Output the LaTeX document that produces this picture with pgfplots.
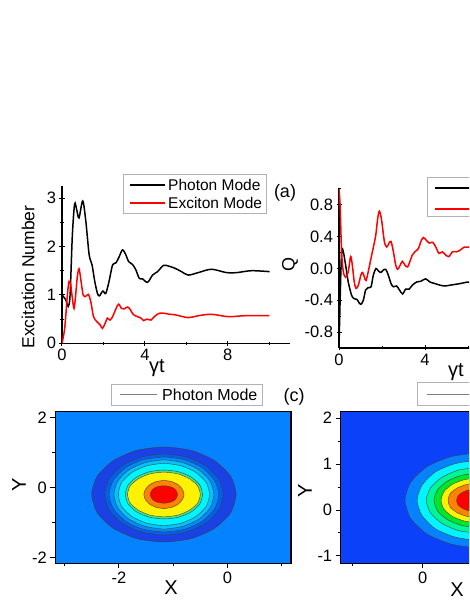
\documentclass[border=0pt]{standalone}
\usepackage{fontspec}
\setmainfont{Liberation Sans}
\usepackage{pgfplots}
\pgfplotsset{compat=1.18}

\definecolor{bgthree}{RGB}{5,130,255}
\definecolor{ringA}{RGB}{25,65,228}
\definecolor{ringB}{RGB}{0,95,240}
\definecolor{ringC}{RGB}{0,140,255}
\definecolor{ringD}{RGB}{0,195,255}
\definecolor{ringE}{RGB}{0,245,255}
\definecolor{ringF}{RGB}{60,230,140}
\definecolor{bgfour}{RGB}{12,65,250}
\definecolor{lgreen}{RGB}{0,245,150}
\definecolor{mgreen}{RGB}{0,230,40}
\definecolor{orng}{RGB}{255,130,0}

\newcommand{\fs}[1]{\fontsize{#1}{#1}\selectfont}

\pgfplotsset{
  panel/.style={
    scale only axis,
    /pgf/number format/assume math mode=true,
    tick label style={font=\fs{16.5}},
    tick align=outside,
    major tick length=5pt, minor tick length=3pt,
    every tick/.style={black, line width=1pt},
  },
  lineplot/.style={panel, axis lines=left, axis line style={-, line width=1.1pt}},
  mapplot/.style={panel, axis on top, tick pos=left,
                  axis line style={line width=1.1pt}},
  ring/.style={fill=#1, draw=black!75, line width=0.4pt, smooth cycle, tension=0.4},
}
\tikzset{keybox/.style={draw=gray!60, line width=0.8pt},
         keytext/.style={anchor=west, inner sep=0pt}}

\begin{document}
\begin{tikzpicture}
\useasboundingbox (0pt,0pt) rectangle (469pt,607pt);
\clip (0pt,0pt) rectangle (469pt,607pt);

% (a) left: excitation number
\begin{axis}[lineplot,
  at={(62pt,263.7pt)}, anchor=south west,
  width=228pt, height=157.3pt,
  xmin=0, xmax=11, ymin=0, ymax=3.25,
  xtick={0,4,8}, minor xtick={2,6,10},
  ytick={0,1,2,3}, minor ytick={0.5,1.5,2.5},
]
\addplot[black, line width=1.5pt, smooth] coordinates {
(0,1.00) (0.18,0.90) (0.30,0.76) (0.39,1.00) (0.50,2.24) (0.61,2.88)
(0.71,2.76) (0.82,2.59) (1.00,2.94) (1.15,2.52) (1.31,1.83) (1.45,1.62)
(1.58,1.28) (1.71,1.03) (1.81,0.98) (1.97,1.08) (2.11,1.03) (2.27,1.28)
(2.44,1.62) (2.60,1.66) (2.76,1.79) (2.92,1.93) (3.08,1.83) (3.21,1.69)
(3.40,1.63) (3.56,1.52) (3.73,1.34) (3.89,1.33) (4.13,1.26) (4.37,1.41)
(4.61,1.48) (4.90,1.61) (5.18,1.59) (5.45,1.55) (5.77,1.48) (6.09,1.41)
(6.57,1.46) (7.21,1.53) (7.94,1.46) (8.42,1.46) (9.14,1.50) (10.02,1.48)};
\addplot[red, line width=1.5pt, smooth] coordinates {
(0,0) (0.13,0.31) (0.26,1.00) (0.34,1.28) (0.42,1.21) (0.50,0.93)
(0.58,0.72) (0.66,1.00) (0.74,1.38) (0.82,1.54) (0.90,1.34) (1.02,1.00)
(1.15,0.97) (1.27,1.01) (1.39,0.86) (1.52,0.55) (1.68,0.45) (1.84,0.38)
(1.95,0.31) (2.08,0.41) (2.19,0.52) (2.32,0.48) (2.44,0.55) (2.60,0.71)
(2.73,0.81) (2.87,0.72) (3.00,0.71) (3.16,0.75) (3.29,0.70) (3.45,0.59)
(3.65,0.55) (3.81,0.52) (3.94,0.47) (4.10,0.50) (4.29,0.48) (4.45,0.55)
(4.69,0.62) (4.94,0.62) (5.18,0.60) (5.45,0.59) (6.09,0.53) (6.57,0.57)
(7.21,0.60) (8.02,0.55) (8.82,0.57) (10.0,0.57)};
\end{axis}

% (a) right: Q parameter
\begin{axis}[lineplot,
  at={(339pt,259pt)}, anchor=south west,
  width=236.5pt, height=159pt,
  xmin=0, xmax=11, ymin=-1, ymax=1,
  xtick={0,4,8}, minor xtick={2,6,10},
  ytick={-0.8,-0.4,0,0.4,0.8}, minor ytick={-1,-0.6,-0.2,0.2,0.6,1},
  yticklabel style={/pgf/number format/.cd, fixed, zerofill, precision=1},
]
\addplot[black, line width=1.5pt, smooth] coordinates {
(0,-1.00) (0.05,-0.42) (0.12,0.21) (0.20,0.21) (0.31,0.04) (0.43,-0.17)
(0.59,-0.34) (0.71,-0.38) (0.84,-0.39) (0.93,-0.43) (1.02,-0.45) (1.13,-0.40)
(1.24,-0.27) (1.36,-0.24) (1.49,-0.23) (1.60,-0.08) (1.72,0.00) (1.83,-0.03)
(1.95,-0.05) (2.06,-0.02) (2.17,-0.01) (2.29,-0.08) (2.42,-0.19) (2.53,-0.23)
(2.68,-0.22) (2.81,-0.27) (2.96,-0.32) (3.10,-0.26) (3.26,-0.26) (3.41,-0.21)
(3.61,-0.17) (3.81,-0.16) (4.03,-0.13) (4.23,-0.17) (4.47,-0.19) (4.70,-0.21)
(4.93,-0.22) (5.16,-0.21) (5.40,-0.20) (5.63,-0.19) (6.02,-0.17) (6.40,-0.18)};
\addplot[red, line width=1.5pt, smooth] coordinates {
(0,1.00) (0.05,0.80) (0.12,0.21) (0.20,-0.04) (0.31,-0.11) (0.43,-0.04)
(0.54,0.15) (0.62,0.04) (0.71,-0.17) (0.79,-0.25) (0.90,-0.21) (1.02,-0.08)
(1.10,-0.05) (1.18,-0.11) (1.26,-0.15) (1.36,-0.04) (1.49,0.13) (1.60,0.27)
(1.71,0.42) (1.80,0.63) (1.88,0.72) (1.98,0.61) (2.11,0.34) (2.22,0.27)
(2.33,0.32) (2.42,0.34) (2.53,0.21) (2.64,0.04) (2.73,-0.01) (2.84,0.04)
(2.95,0.09) (3.07,0.04) (3.19,0.02) (3.30,0.09) (3.41,0.17) (3.53,0.21)
(3.69,0.25) (3.81,0.34) (3.92,0.39) (4.08,0.35) (4.20,0.32) (4.36,0.33)
(4.50,0.27) (4.65,0.19) (4.81,0.21) (4.96,0.17) (5.12,0.15) (5.27,0.21)
(5.47,0.21) (5.63,0.23) (5.83,0.27) (6.02,0.27) (6.40,0.26)};
\end{axis}

% (c) left: photon mode contour
\begin{axis}[mapplot,
  at={(55.3pt,43.7pt)}, anchor=south west,
  width=235.7pt, height=151.6pt,
  xmin=-3.17, xmax=1.17, ymin=-2.17, ymax=2.17,
  xtick={-2,0}, minor xtick={-3,-1,1},
  ytick={-2,0,2}, minor ytick={-1,1},
  axis background/.style={fill=bgthree},
]
\addplot[ring=ringA] coordinates {(0.16,-0.20) (0.06,0.32) (-0.23,0.76) (-0.66,1.06) (-1.17,1.16) (-1.68,1.06) (-2.11,0.76) (-2.40,0.32) (-2.50,-0.20) (-2.40,-0.72) (-2.11,-1.16) (-1.68,-1.46) (-1.17,-1.56) (-0.66,-1.46) (-0.23,-1.16) (0.06,-0.72)};
\addplot[ring=ringB] coordinates {(-0.08,-0.20) (-0.16,0.24) (-0.40,0.62) (-0.75,0.87) (-1.17,0.96) (-1.59,0.87) (-1.94,0.62) (-2.18,0.24) (-2.26,-0.20) (-2.18,-0.64) (-1.94,-1.02) (-1.59,-1.27) (-1.17,-1.36) (-0.75,-1.27) (-0.40,-1.02) (-0.16,-0.64)};
\addplot[ring=ringC] coordinates {(-0.16,-0.20) (-0.24,0.21) (-0.46,0.56) (-0.78,0.79) (-1.17,0.87) (-1.56,0.79) (-1.88,0.56) (-2.10,0.21) (-2.18,-0.20) (-2.10,-0.61) (-1.88,-0.96) (-1.56,-1.19) (-1.17,-1.27) (-0.78,-1.19) (-0.46,-0.96) (-0.24,-0.61)};
\addplot[ring=ringD] coordinates {(-0.25,-0.20) (-0.32,0.18) (-0.52,0.50) (-0.82,0.71) (-1.17,0.79) (-1.52,0.71) (-1.82,0.50) (-2.02,0.18) (-2.09,-0.20) (-2.02,-0.58) (-1.82,-0.90) (-1.52,-1.11) (-1.17,-1.19) (-0.82,-1.11) (-0.52,-0.90) (-0.32,-0.58)};
\addplot[ring=ringE] coordinates {(-0.33,-0.20) (-0.39,0.14) (-0.58,0.43) (-0.85,0.62) (-1.17,0.69) (-1.49,0.62) (-1.76,0.43) (-1.95,0.14) (-2.01,-0.20) (-1.95,-0.54) (-1.76,-0.83) (-1.49,-1.02) (-1.17,-1.09) (-0.85,-1.02) (-0.58,-0.83) (-0.39,-0.54)};
\addplot[ring=ringF] coordinates {(-0.46,-0.20) (-0.51,0.07) (-0.67,0.30) (-0.90,0.45) (-1.17,0.50) (-1.44,0.45) (-1.67,0.30) (-1.83,0.07) (-1.88,-0.20) (-1.83,-0.47) (-1.67,-0.70) (-1.44,-0.85) (-1.17,-0.90) (-0.90,-0.85) (-0.67,-0.70) (-0.51,-0.47)};
\addplot[ring=yellow] coordinates {(-0.50,-0.20) (-0.55,0.05) (-0.70,0.25) (-0.91,0.39) (-1.17,0.44) (-1.43,0.39) (-1.64,0.25) (-1.79,0.05) (-1.84,-0.20) (-1.79,-0.45) (-1.64,-0.65) (-1.43,-0.79) (-1.17,-0.84) (-0.91,-0.79) (-0.70,-0.65) (-0.55,-0.45)};
\addplot[ring=orng] coordinates {(-0.80,-0.20) (-0.83,-0.05) (-0.91,0.08) (-1.03,0.17) (-1.17,0.20) (-1.31,0.17) (-1.43,0.08) (-1.51,-0.05) (-1.54,-0.20) (-1.51,-0.35) (-1.43,-0.48) (-1.31,-0.57) (-1.17,-0.60) (-1.03,-0.57) (-0.91,-0.48) (-0.83,-0.35)};
\addplot[ring=red] coordinates {(-0.92,-0.20) (-0.94,-0.10) (-0.99,-0.02) (-1.07,0.03) (-1.17,0.05) (-1.27,0.03) (-1.35,-0.02) (-1.40,-0.10) (-1.42,-0.20) (-1.40,-0.30) (-1.35,-0.38) (-1.27,-0.43) (-1.17,-0.45) (-1.07,-0.43) (-0.99,-0.38) (-0.94,-0.30)};
\end{axis}

% (c) right: exciton mode contour
\begin{axis}[mapplot,
  at={(340.7pt,43.7pt)}, anchor=south west,
  width=195.1pt, height=151.6pt,
  xmin=-1.16, xmax=1.6, ymin=-1.16, ymax=2.14,
  xtick={0}, minor xtick={-1,1},
  ytick={-1,0,1,2}, minor ytick={-0.5,0.5,1.5},
  axis background/.style={fill=bgfour},
]
\addplot[ring=bgthree] coordinates {(1.85,0.21) (1.77,0.60) (1.54,0.94) (1.20,1.16) (0.80,1.24) (0.40,1.16) (0.06,0.94) (-0.17,0.60) (-0.25,0.21) (-0.17,-0.18) (0.06,-0.52) (0.40,-0.74) (0.80,-0.82) (1.20,-0.74) (1.54,-0.52) (1.77,-0.18)};
\addplot[ring=ringE] coordinates {(1.68,0.21) (1.61,0.54) (1.42,0.83) (1.14,1.01) (0.80,1.08) (0.46,1.01) (0.18,0.83) (-0.01,0.54) (-0.08,0.21) (-0.01,-0.12) (0.18,-0.41) (0.46,-0.59) (0.80,-0.66) (1.14,-0.59) (1.42,-0.41) (1.61,-0.12)};
\addplot[ring=lgreen] coordinates {(1.55,0.21) (1.49,0.48) (1.33,0.71) (1.09,0.87) (0.80,0.92) (0.51,0.87) (0.27,0.71) (0.11,0.48) (0.05,0.21) (0.11,-0.06) (0.27,-0.29) (0.51,-0.45) (0.80,-0.50) (1.09,-0.45) (1.33,-0.29) (1.49,-0.06)};
\addplot[ring=mgreen] coordinates {(1.44,0.21) (1.39,0.44) (1.25,0.63) (1.05,0.76) (0.80,0.80) (0.56,0.76) (0.35,0.63) (0.21,0.44) (0.16,0.21) (0.21,-0.02) (0.35,-0.21) (0.56,-0.34) (0.80,-0.38) (1.05,-0.34) (1.25,-0.21) (1.39,-0.02)};
\addplot[ring=yellow] coordinates {(1.34,0.21) (1.30,0.40) (1.18,0.56) (1.01,0.66) (0.80,0.70) (0.59,0.66) (0.42,0.56) (0.30,0.40) (0.26,0.21) (0.30,0.02) (0.42,-0.14) (0.59,-0.24) (0.80,-0.28) (1.01,-0.24) (1.18,-0.14) (1.30,0.02)};
\addplot[ring=orng] coordinates {(1.24,0.21) (1.21,0.36) (1.11,0.48) (0.97,0.56) (0.80,0.59) (0.63,0.56) (0.49,0.48) (0.39,0.36) (0.36,0.21) (0.39,0.06) (0.49,-0.06) (0.63,-0.14) (0.80,-0.17) (0.97,-0.14) (1.11,-0.06) (1.21,0.06)};
\addplot[ring=red] coordinates {(1.12,0.21) (1.10,0.31) (1.03,0.39) (0.92,0.45) (0.80,0.47) (0.68,0.45) (0.57,0.39) (0.50,0.31) (0.48,0.21) (0.50,0.11) (0.57,0.03) (0.68,-0.03) (0.80,-0.05) (0.92,-0.03) (1.03,0.03) (1.10,0.11)};
\end{axis}

% legend keys (boxes, sample lines and names)
\draw[keybox] (123pt,394pt) rectangle (266pt,433pt);
\draw[black, line width=1.6pt] (130pt,422pt) -- (165pt,422pt);
\draw[red, line width=1.6pt] (130pt,404pt) -- (165pt,404pt);
\node[keytext, font=\fs{15.5}] at (168pt,422pt) {Photon Mode};
\node[keytext, font=\fs{15.5}] at (168pt,404pt) {Exciton Mode};

\draw[keybox] (427pt,390.5pt) rectangle (560pt,430pt);
\draw[black, line width=1.6pt] (435pt,419pt) -- (475pt,419pt);
\draw[red, line width=1.6pt] (435pt,398pt) -- (475pt,398pt);

\draw[keybox] (111pt,202pt) rectangle (262pt,223pt);
\draw[gray, line width=0.6pt] (120pt,212.5pt) -- (157pt,212.5pt);
\node[keytext, font=\fs{16}] at (162pt,212.5pt) {Photon Mode};

\draw[keybox] (417pt,202pt) rectangle (560pt,224.5pt);
\draw[gray, line width=0.6pt] (427pt,212.5pt) -- (475pt,212.5pt);

% axis titles and panel labels
\node[rotate=90, font=\fs{17.5}] at (28pt,330pt) {Excitation Number};
\node[font=\fs{20}] at (157pt,239pt) {γt};
\node[font=\fs{18}] at (285pt,414pt) {(a)};
\node[rotate=90, font=\fs{18}] at (290pt,342pt) {Q};
\node[font=\fs{20}] at (456pt,235pt) {γt};
\node[font=\fs{18}] at (294pt,210pt) {(c)};
\node[rotate=90, font=\fs{20}] at (19pt,122pt) {Y};
\node[font=\fs{20}] at (171pt,19pt) {X};
\node[rotate=90, font=\fs{20}] at (305pt,116pt) {Y};
\node[font=\fs{20}] at (457pt,17pt) {X};
\end{tikzpicture}
\end{document}
